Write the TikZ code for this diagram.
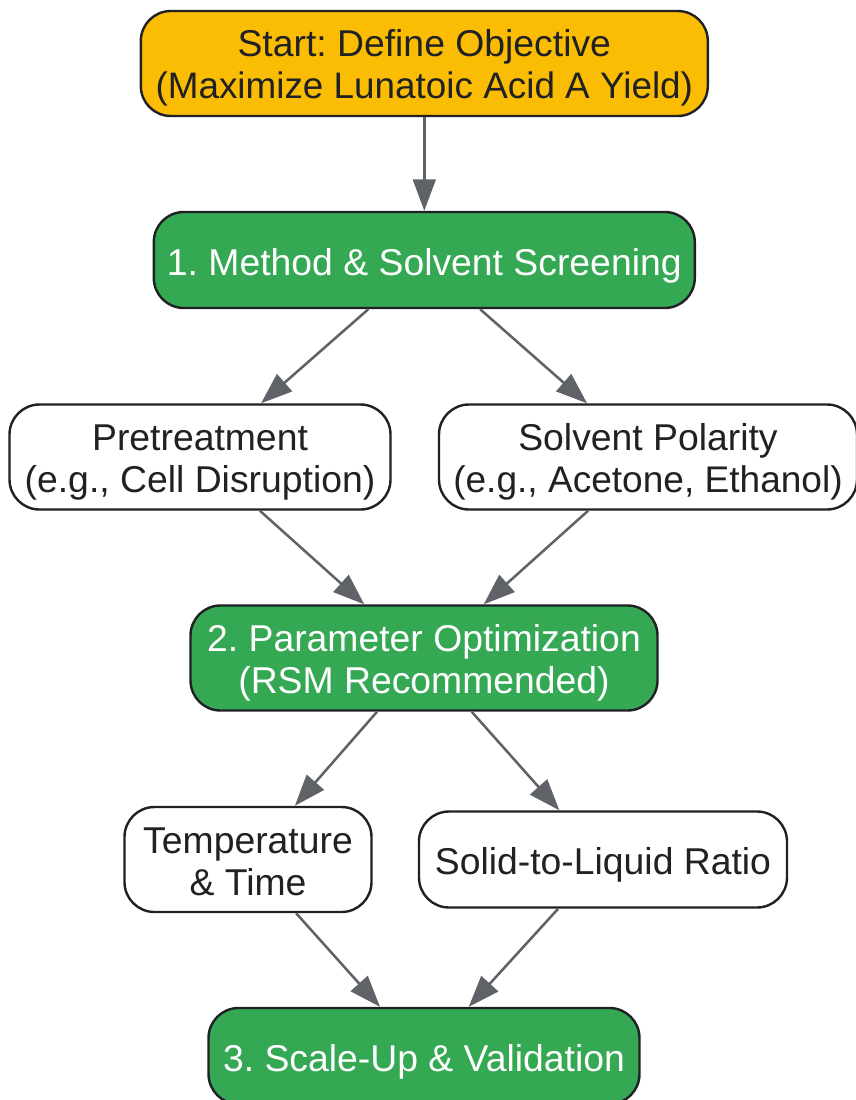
\documentclass[tikz,border=0pt]{standalone}
\usepackage{fontspec}
\setmainfont{Liberation Sans}
\usetikzlibrary{arrows.meta}
\definecolor{ink}{HTML}{202124}
\definecolor{edgec}{HTML}{5F6368}
\definecolor{gold}{HTML}{FBBC04}
\definecolor{leaf}{HTML}{34A853}
\tikzset{
 x=0.75pt,y=-0.75pt,
 box/.style={draw=ink,line width=1.8pt,rounded corners=22.5pt,align=center,inner sep=0pt,text depth=0pt,font=\frenchspacing\fontsize{28pt}{31.5pt}\selectfont,text=ink},
 startbox/.style={box,fill=gold},
 stepbox/.style={box,fill=leaf,text=white},
 optbox/.style={box,fill=white},
 link/.style={draw=edgec,line width=1.9pt,-{Stealth[length=23.5pt,width=17pt,inset=0pt]}}
}
\newcommand{\bx}[7]{\node[#1,minimum width=#4*0.75pt,minimum height=#5*0.75pt] (#2) at (#6,#7) {#3};}
\newcommand{\lift}[1]{\rule{0pt}{#1pt}}
\newcommand{\tight}[2]{{\fontsize{#1pt}{31.5pt}\selectfont #2}}
\begin{document}
\begin{tikzpicture}
\useasboundingbox (0,0) rectangle (856,1100);
\bx{startbox}{a}{\lift{20.5}Start: Define Objective\\\tight{27.65}{(Maximize Lunatoic Acid A Yield)}}{567}{105}{424.3}{63.5}
\bx{stepbox}{b}{\lift{23.3}1. Method \& Solvent Screening}{541}{96}{424.3}{260}
\bx{optbox}{c}{\lift{22.3}Pretreatment\\(e.g., Cell Disruption)}{381}{105}{200}{457}
\bx{optbox}{d}{\lift{22.3}Solvent Polarity\\\tight{27.8}{(e.g., Acetone, Ethanol)}}{418}{105}{648}{457}
\bx{stepbox}{e}{\lift{22.3}2. Parameter Optimization\\(RSM Recommended)}{467}{105}{424}{658}
\bx{optbox}{f}{\lift{22.8}Temperature\\\& Time}{247}{105}{248}{859.5}
\bx{optbox}{g}{\lift{22.5}Solid-to-Liquid Ratio}{368}{96}{603}{859.5}
\bx{stepbox}{h}{\lift{23.3}3. Scale-Up \& Validation}{431}{96}{424}{1056}
\draw[link] (a) -- (b);
\draw[link] (b) -- (c);
\draw[link] (b) -- (d);
\draw[link] (c) -- (e);
\draw[link] (d) -- (e);
\draw[link] (e) -- (f);
\draw[link] (e) -- (g);
\draw[link] (f) -- (h);
\draw[link] (g) -- (h);
\end{tikzpicture}
\end{document}
